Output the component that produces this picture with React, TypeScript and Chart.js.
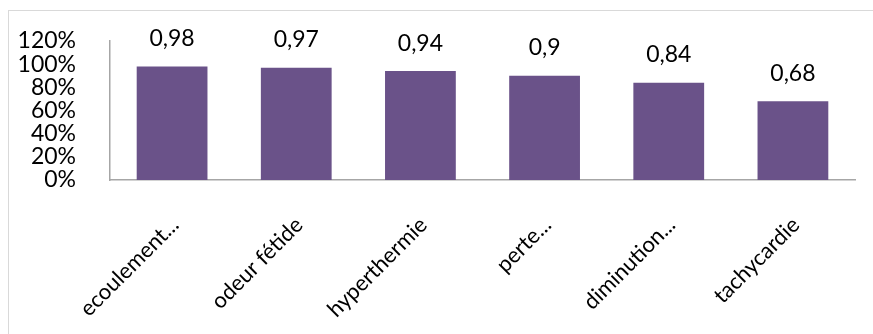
import React, { useEffect, useRef } from "react";
import { Chart, registerables } from "chart.js";

Chart.register(...registerables);

const categories = [
  "ecoulement...",
  "odeur fétide",
  "hyperthermie",
  "perte...",
  "diminution...",
  "tachycardie",
];
const values = [0.98, 0.97, 0.94, 0.9, 0.84, 0.68];

const FONT = "Lato, Carlito, 'Open Sans', sans-serif";
const FONT_SIZE = 23;
const CATEGORY_FONT_SIZE = 22;
const BAR_COLOR = "#6a5289";
const AXIS_COLOR = "#a6a6a6";

// Writes each bar's value (decimal comma) above the bar.
const valueLabels = {
  id: "valueLabels",
  afterDatasetsDraw(chart: any) {
    const { ctx } = chart;
    const meta = chart.getDatasetMeta(0);
    ctx.save();
    ctx.font = `${FONT_SIZE}px ${FONT}`;
    ctx.fillStyle = "#000";
    ctx.textAlign = "center";
    ctx.textBaseline = "middle";
    meta.data.forEach((bar: any, i: number) => {
      const text = String(values[i]).replace(".", ",");
      ctx.fillText(text, bar.x, bar.y - 28);
    });
    ctx.restore();
  },
};

export default function App() {
  const canvasRef = useRef<HTMLCanvasElement | null>(null);

  useEffect(() => {
    if (!canvasRef.current) return;
    const chart = new Chart(canvasRef.current, {
      type: "bar",
      data: {
        labels: categories,
        datasets: [
          {
            data: values,
            backgroundColor: BAR_COLOR,
            borderWidth: 0,
            categoryPercentage: 1,
            barPercentage: 0.57,
          },
        ],
      },
      options: {
        animation: false,
        responsive: true,
        maintainAspectRatio: false,
        layout: { padding: { top: 30, right: 18, bottom: 0, left: 0 } },
        plugins: {
          legend: { display: false },
          tooltip: { enabled: false },
        },
        scales: {
          x: {
            grid: { display: false },
            border: { display: true, color: AXIS_COLOR, width: 1.5 },
            ticks: {
              autoSkip: false,
              minRotation: 45,
              maxRotation: 45,
              padding: 24,
              labelOffset: 3,
              color: "#000",
              font: { family: FONT, size: CATEGORY_FONT_SIZE },
            },
            afterFit(scale: any) {
              scale.height = 154;
            },
          },
          y: {
            min: 0,
            max: 1.2,
            grid: { display: false },
            border: { display: true, color: AXIS_COLOR, width: 1.5 },
            ticks: {
              autoSkip: false,
              stepSize: 0.2,
              padding: 26,
              color: "#000",
              font: { family: FONT, size: FONT_SIZE, lineHeight: 1 },
              callback: (v: any) => `${Math.round(Number(v) * 100)}%`,
            },
            afterFit(scale: any) {
              scale.width = 101;
              // keep the label gap from adding space above the plot
              scale.paddingTop = 0;
              scale.paddingBottom = 0;
            },
          },
        },
      },
      plugins: [valueLabels],
    });
    return () => chart.destroy();
  }, []);

  return (
    <div
      style={{
        position: "absolute",
        left: 8,
        top: 10,
        width: 865,
        height: 324,
        boxSizing: "border-box",
        borderLeft: "1px solid #d9d9d9",
        borderTop: "1px solid #d9d9d9",
        background: "#fff",
      }}
    >
      <div style={{ position: "relative", width: 864, height: 323 }}>
        <canvas ref={canvasRef} />
      </div>
    </div>
  );
}
